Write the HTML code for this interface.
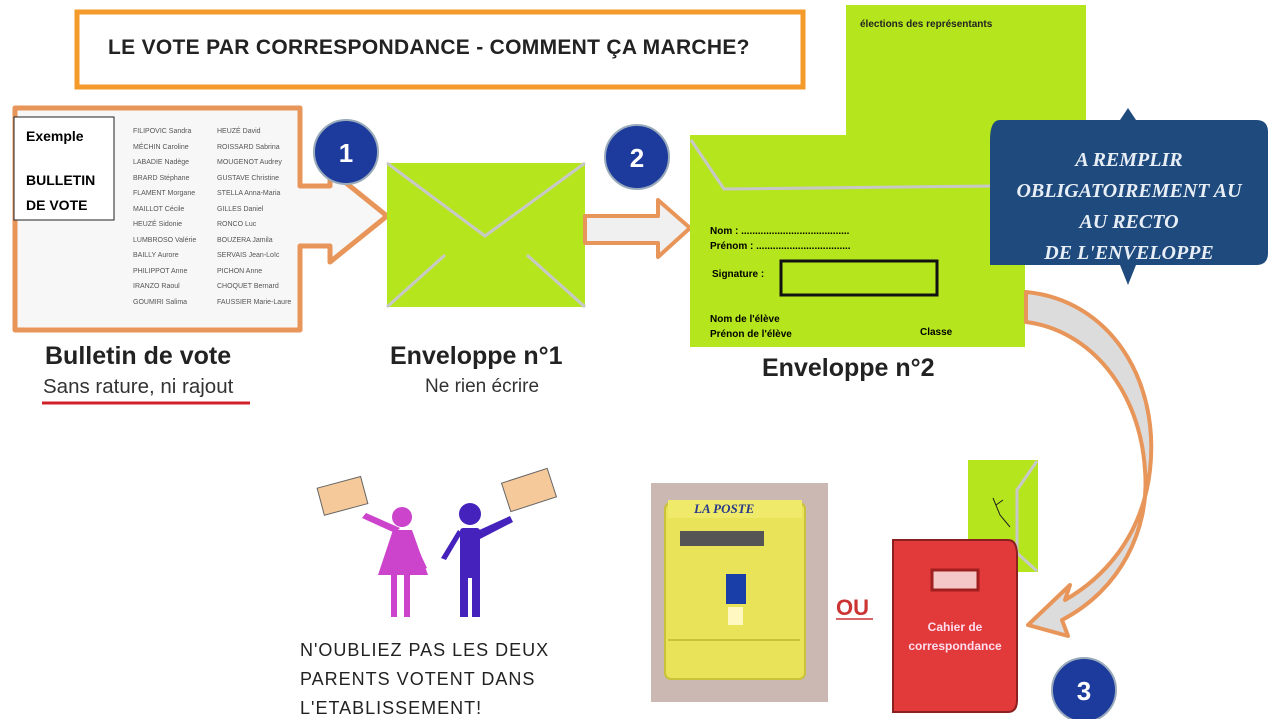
<!DOCTYPE html>
<html><head><meta charset="utf-8"><style>
body{margin:0;width:1280px;height:719px;background:#fff;overflow:hidden;position:relative;font-family:"Liberation Sans",sans-serif}
.a{position:absolute;white-space:nowrap}
.n{font-size:7px;color:#555;line-height:15.5px}
</style></head><body>
<svg width="1280" height="719" style="position:absolute;left:0;top:0">
<rect x="77" y="12" width="726" height="75" fill="#fff" stroke="#f39a2b" stroke-width="5"/>
<path d="M15 108 H300 V186 H330 V170 L387 216 L330 262 V246 H300 V330 H15 Z" fill="#f7f7f7" stroke="#e8955a" stroke-width="5" stroke-linejoin="round"/>
<rect x="14" y="117" width="100" height="103" fill="#fff" stroke="#222" stroke-width="1"/>
<circle cx="346" cy="152" r="32" fill="#1c3b9c" stroke="#9ab" stroke-width="2"/>
<text x="346" y="162" font-size="26" font-weight="bold" fill="#fff" text-anchor="middle" font-family="Liberation Sans">1</text>
<rect x="387" y="163" width="198" height="144" fill="#b5e61d"/>
<path d="M387 163 L485 236 L585 163 M387 307 L445 255 M585 307 L527 255" stroke="#c8c8c8" stroke-width="3" fill="none"/>
<path d="M585 216 H658 V200 L690 228 L658 257 V243 H585 Z" fill="#f0f0f0" stroke="#e8955a" stroke-width="4" stroke-linejoin="round"/>
<circle cx="637" cy="157" r="32" fill="#1c3b9c" stroke="#9ab" stroke-width="2"/>
<text x="637" y="167" font-size="26" font-weight="bold" fill="#fff" text-anchor="middle" font-family="Liberation Sans">2</text>
<rect x="846" y="5" width="240" height="130" fill="#b5e61d"/>
<rect x="690" y="135" width="335" height="212" fill="#b5e61d"/>
<path d="M691 140 L724 189 L995 186" stroke="#c8c8c8" stroke-width="3" fill="none"/>
<rect x="781" y="261" width="156" height="34" fill="none" stroke="#111" stroke-width="3"/>
<path d="M998 120 H1120 L1128 108 L1136 120 H1256 Q1268 120 1268 132 V253 Q1268 265 1256 265 H1136 L1128 285 L1120 265 H990 V140 Q990 120 1000 120 Z" fill="#1f4a7d"/>
<path d="M1026 292 C1110 300 1160 380 1150 470 C1142 540 1100 580 1065 600 L1070 585 L1028 625 L1068 636 L1062 620 C1120 590 1150 530 1145 470 C1140 390 1090 330 1026 322 Z" fill="#dcdcdc" stroke="#e8955a" stroke-width="4" stroke-linejoin="round"/>
<rect x="651" y="483" width="177" height="219" fill="#cbb8b2"/>
<rect x="665" y="503" width="140" height="176" rx="6" fill="#e9e35a" stroke="#c9c23a" stroke-width="2"/>
<rect x="668" y="500" width="134" height="18" fill="#f0ea6a"/>
<rect x="680" y="531" width="84" height="15" fill="#555"/>
<rect x="726" y="574" width="20" height="30" fill="#1a3ea8"/>
<rect x="728" y="607" width="15" height="18" fill="#fff8c0"/>
<line x1="668" y1="640" x2="800" y2="640" stroke="#c9c23a" stroke-width="2"/>
<rect x="968" y="460" width="70" height="112" fill="#b5e61d"/>
<path d="M1037 461 L1017 490 V553 L1037 571" stroke="#c8c8c8" stroke-width="3" fill="none"/>
<path d="M993 498 L1000 515 L1010 527 M996 505 L1003 500" stroke="#222" fill="none"/>
<path d="M893 540 H1008 Q1017 540 1017 555 V700 Q1017 712 1008 712 H893 Z" fill="#e23a3a" stroke="#8a2020" stroke-width="2"/>
<rect x="932" y="570" width="46" height="20" fill="#f5c8c8" stroke="#a02020" stroke-width="3"/>
<circle cx="1084" cy="690" r="32" fill="#1c3b9c" stroke="#9ab" stroke-width="2"/>
<text x="1084" y="700" font-size="26" font-weight="bold" fill="#fff" text-anchor="middle" font-family="Liberation Sans">3</text>
<g fill="#cc44cc">
<circle cx="402" cy="517" r="10"/>
<path d="M393 530 H412 L428 575 H378 Z"/>
<rect x="391" y="572" width="6" height="45"/><rect x="404" y="572" width="6" height="45"/>
<path d="M395 533 L362 518 L366 513 L400 528 Z"/>
<path d="M410 532 L427 568 L422 570 L406 538 Z"/>
</g>
<g fill="#4422bb">
<circle cx="470" cy="514" r="11"/>
<rect x="460" y="528" width="20" height="50" rx="3"/>
<rect x="460" y="572" width="8" height="45"/><rect x="472" y="572" width="8" height="45"/>
<path d="M475 532 L510 516 L513 522 L478 540 Z"/>
<path d="M462 533 L446 560 L441 558 L458 530 Z"/>
</g>
<g>
<rect x="320" y="482" width="45" height="28" fill="#f5c99a" stroke="#666" transform="rotate(-15 342 496)"/>
<rect x="505" y="475" width="48" height="30" fill="#f5c99a" stroke="#666" transform="rotate(-18 529 490)"/>
</g>
<line x1="42" y1="403" x2="250" y2="403" stroke="#d0202a" stroke-width="3"/>
<line x1="836" y1="619" x2="873" y2="619" stroke="#c33" stroke-width="1.5"/>
</svg>

<div class="a" style="left:108px;top:36px;font-size:21px;font-weight:bold;color:#222;letter-spacing:0.3px">LE VOTE PAR CORRESPONDANCE - COMMENT ÇA MARCHE?</div>
<div class="a" style="left:26px;top:128px;font-size:14px;font-weight:bold">Exemple</div>
<div class="a" style="left:26px;top:168px;font-size:14px;font-weight:bold;line-height:25px">BULLETIN<br>DE VOTE</div>
<div class="a n" style="left:133px;top:124px">FILIPOVIC Sandra<br>MÉCHIN Caroline<br>LABADIE Nadège<br>BRARD Stéphane<br>FLAMENT Morgane<br>MAILLOT Cécile<br>HEUZÉ Sidonie<br>LUMBROSO Valérie<br>BAILLY Aurore<br>PHILIPPOT Anne<br>IRANZO Raoul<br>GOUMIRI Salima</div>
<div class="a n" style="left:217px;top:124px">HEUZÉ David<br>ROISSARD Sabrina<br>MOUGENOT Audrey<br>GUSTAVE Christine<br>STELLA Anna-Maria<br>GILLES Daniel<br>RONCO Luc<br>BOUZERA Jamila<br>SERVAIS Jean-Loïc<br>PICHON Anne<br>CHOQUET Bernard<br>FAUSSIER Marie-Laure</div>
<div class="a" style="left:45px;top:342px;font-size:25px;font-weight:bold;color:#222">Bulletin de vote</div>
<div class="a" style="left:43px;top:375px;font-size:20.5px;color:#333">Sans rature, ni rajout</div>
<div class="a" style="left:390px;top:342px;font-size:25px;font-weight:bold;color:#222">Enveloppe n°1</div>
<div class="a" style="left:425px;top:376px;font-size:19px;color:#333">Ne rien écrire</div>
<div class="a" style="left:762px;top:354px;font-size:25px;font-weight:bold;color:#222">Enveloppe n°2</div>
<div class="a" style="left:860px;top:19px;font-size:10px;font-weight:bold;color:#222">élections des représentants</div>
<div class="a" style="left:710px;top:224px;font-size:10px;font-weight:bold;line-height:15px">Nom : .......................................<br>Prénom : ..................................</div>
<div class="a" style="left:712px;top:269px;font-size:10px;font-weight:bold">Signature :</div>
<div class="a" style="left:710px;top:312px;font-size:10px;font-weight:bold;line-height:15px">Nom de l'élève<br>Prénon de l'élève</div>
<div class="a" style="left:920px;top:327px;font-size:10px;font-weight:bold">Classe</div>
<div class="a" style="left:990px;top:145px;width:278px;text-align:center;font-family:'Liberation Serif',serif;font-style:italic;font-weight:bold;font-size:20px;line-height:31px;color:#e8eef5">A REMPLIR<br>OBLIGATOIREMENT AU<br>AU RECTO<br>DE L'ENVELOPPE</div>
<div class="a" style="left:694px;top:501px;font-family:'Liberation Serif',serif;font-style:italic;font-weight:bold;font-size:13px;color:#2a3a8a">LA POSTE</div>
<div class="a" style="left:836px;top:595px;font-size:22px;font-weight:bold;color:#c33">OU</div>
<div class="a" style="left:893px;top:618px;width:124px;text-align:center;font-size:12px;font-weight:bold;color:#fde;line-height:19px">Cahier de<br>correspondance</div>
<div class="a" style="left:300px;top:636px;font-size:18px;line-height:29px;color:#222;letter-spacing:1px">N'OUBLIEZ PAS LES DEUX<br>PARENTS VOTENT DANS<br>L'ETABLISSEMENT!</div>
</body></html>
